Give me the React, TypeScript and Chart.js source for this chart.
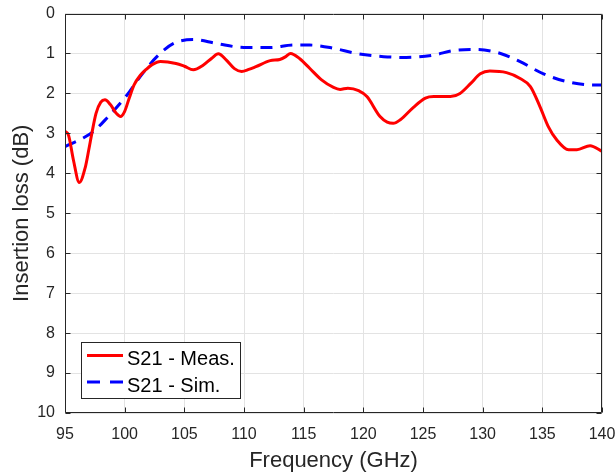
import React, { useEffect, useRef } from "react";
import { Chart, registerables } from "chart.js";

Chart.register(...registerables);

const xTicks = [95, 100, 105, 110, 115, 120, 125, 130, 135, 140];
const yTicks = [0, 1, 2, 3, 4, 5, 6, 7, 8, 9, 10];

const measFreq = [95, 95.3, 95.7, 96.2, 96.7, 97.0, 97.25, 97.6, 98.0, 98.35, 98.8, 99.3, 99.65, 100.0, 100.4, 100.8, 101.3, 101.8, 102.3, 103.0, 104.3, 105.0, 105.75, 106.6, 107.3, 107.85, 108.5, 109.2, 109.8, 110.4, 111.0, 112.2, 113.0, 113.5, 113.9, 114.7, 115.5, 116.5, 117.5, 118.05, 118.7, 119.6, 120.3, 121.4, 122.0, 122.5, 123.1, 124.2, 125.2, 125.9, 127.3, 128.1, 129.0, 129.8, 130.6, 132.0, 133.1, 134.0, 134.8, 135.5, 136.2, 137.2, 137.9, 139.0, 140];
const measLoss = [2.95, 3.05, 3.66, 4.23, 3.85, 3.4, 3.0, 2.5, 2.22, 2.16, 2.28, 2.5, 2.58, 2.45, 2.1, 1.78, 1.55, 1.4, 1.28, 1.2, 1.25, 1.32, 1.41, 1.29, 1.12, 1.01, 1.16, 1.38, 1.45, 1.4, 1.33, 1.18, 1.15, 1.08, 1.0, 1.14, 1.37, 1.66, 1.85, 1.9, 1.87, 1.93, 2.08, 2.58, 2.72, 2.75, 2.66, 2.35, 2.12, 2.08, 2.08, 2.0, 1.75, 1.51, 1.44, 1.48, 1.62, 1.83, 2.33, 2.83, 3.16, 3.41, 3.41, 3.31, 3.45];

const simFreq = [95, 96.5, 97.4, 98.5, 100.2, 101.3, 102.7, 104.1, 105.75, 107.7, 110.0, 112.2, 114.2, 115.5, 117.5, 119.4, 121.7, 123.6, 125.9, 127.5, 129.5, 131.5, 133.1, 135.1, 137.0, 139.3, 140];
const simLoss = [3.33, 3.12, 2.95, 2.62, 2.04, 1.58, 1.08, 0.75, 0.65, 0.75, 0.85, 0.85, 0.79, 0.79, 0.87, 1.0, 1.08, 1.1, 1.04, 0.93, 0.9, 1.0, 1.2, 1.51, 1.7, 1.79, 1.79];

const seriesNames = ["S21 - Meas.", "S21 - Sim."];

const FONT = '"Liberation Sans", Arial, sans-serif';
const AXIS = "#262626";

const boxAndTicks = {
  id: "boxAndTicks",
  afterDraw(chart: any) {
    const { ctx, chartArea: a, scales } = chart;
    ctx.save();
    ctx.strokeStyle = AXIS;
    ctx.lineWidth = 1;
    ctx.beginPath();
    const L = Math.round(a.left) + 0.5, R = Math.round(a.right) - 0.5;
    const T = Math.round(a.top) + 0.5, B = Math.round(a.bottom) - 0.5;
    ctx.rect(L, T, R - L, B - T);
    const tl = 5;
    xTicks.forEach((v) => {
      const px = Math.round(scales.x.getPixelForValue(v)) + 0.5;
      ctx.moveTo(px, B); ctx.lineTo(px, B - tl);
      ctx.moveTo(px, T); ctx.lineTo(px, T + tl);
    });
    yTicks.forEach((v) => {
      const py = Math.round(scales.y.getPixelForValue(v)) + 0.5;
      ctx.moveTo(L, py); ctx.lineTo(L + tl, py);
      ctx.moveTo(R, py); ctx.lineTo(R - tl, py);
    });
    ctx.stroke();

    // legend
    const lx = 81.5, ly = 342.5, lw = 159, lh = 56;
    ctx.fillStyle = "#ffffff";
    ctx.fillRect(lx, ly, lw, lh);
    ctx.strokeStyle = AXIS;
    ctx.strokeRect(lx, ly, lw, lh);
    const ds = chart.data.datasets;
    const rows = [355.5, 382];
    const bases = [365, 391.5];
    ds.forEach((d: any, i: number) => {
      ctx.beginPath();
      ctx.strokeStyle = d.borderColor;
      ctx.lineWidth = 3;
      ctx.setLineDash(i === 1 ? [13, 10] : []);
      ctx.moveTo(87, rows[i]);
      ctx.lineTo(123, rows[i]);
      ctx.stroke();
      ctx.setLineDash([]);
      ctx.fillStyle = "#000000";
      ctx.font = `20px ${FONT}`;
      ctx.textBaseline = "alphabetic";
      ctx.textAlign = "left";
      ctx.fillText(d.label, 127, bases[i]);
    });
    ctx.restore();
  },
};

export default function App() {
  const ref = useRef<HTMLCanvasElement>(null);
  useEffect(() => {
    if (!ref.current) return;
    const chart = new Chart(ref.current, {
      type: "line",
      data: {
        datasets: [
          {
            label: seriesNames[0],
            data: measFreq.map((f, i) => ({ x: f, y: measLoss[i] })),
            borderColor: "#ff0000",
            borderWidth: 3,
            pointRadius: 0,
            cubicInterpolationMode: "monotone",
            fill: false,
          },
          {
            label: seriesNames[1],
            data: simFreq.map((f, i) => ({ x: f, y: simLoss[i] })),
            borderColor: "#0000ff",
            borderWidth: 3,
            borderDash: [12, 8],
            pointRadius: 0,
            cubicInterpolationMode: "monotone",
            fill: false,
          },
        ],
      },
      options: {
        responsive: false,
        animation: false,
        layout: { padding: { top: 13.5, right: 13, left: 0, bottom: 0 } },
        plugins: { legend: { display: false }, tooltip: { enabled: false } },
        scales: {
          x: {
            type: "linear",
            min: 95,
            max: 140,
            afterBuildTicks: (s: any) => { s.ticks = xTicks.map((v) => ({ value: v })); },
            afterFit: (s: any) => { s.height = 63; s.paddingLeft = 0; s.paddingRight = 0; },
            grid: { color: "#e3e3e3", drawTicks: false },
            border: { display: false },
            ticks: { color: AXIS, font: { family: FONT, size: 16 }, padding: 12, maxRotation: 0 },
            title: { display: true, text: "Frequency (GHz)", color: AXIS, font: { family: FONT, size: 22 }, padding: { top: 0, bottom: 2 } },
          },
          y: {
            type: "linear",
            min: 0,
            max: 10,
            reverse: true,
            afterBuildTicks: (s: any) => { s.ticks = yTicks.map((v) => ({ value: v })); },
            afterFit: (s: any) => { s.width = 65; s.paddingTop = 0; s.paddingBottom = 0; },
            grid: { color: "#e3e3e3", drawTicks: false },
            border: { display: false },
            ticks: { color: AXIS, font: { family: FONT, size: 16 }, padding: 10 },
            title: { display: true, text: "Insertion loss (dB)", color: AXIS, font: { family: FONT, size: 22 }, padding: { top: 9, bottom: 0 } },
          },
        },
      },
      plugins: [boxAndTicks],
    });
    return () => chart.destroy();
  }, []);
  return (
    <div style={{ position: "fixed", left: 0, top: 0, width: 615, height: 476, background: "#fff" }}>
      <canvas ref={ref} width={615} height={476} style={{ display: "block" }} />
    </div>
  );
}
